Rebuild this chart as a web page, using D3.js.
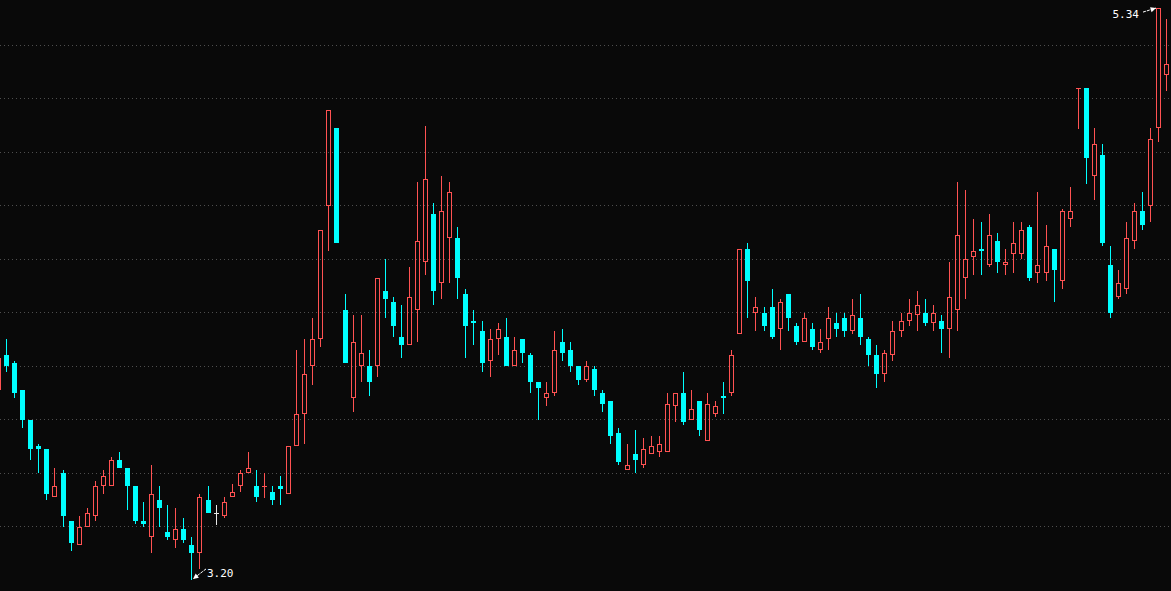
<!DOCTYPE html>
<html><head><meta charset="utf-8">
<script src="https://cdn.jsdelivr.net/npm/d3@7"></script>
<style>html,body{margin:0;padding:0;background:#090909;overflow:hidden}</style>
</head><body>
<svg id="c" width="1171" height="591"></svg>
<script>
// candle index (first one is partly off the left edge)
const firstIndex = -1;
const opens = [3.91,4.04,4.01,3.91,3.80,3.70,3.69,3.51,3.60,3.42,3.33,3.40,3.44,3.55,3.55,3.65,3.62,3.55,3.42,3.36,
3.50,3.38,3.35,3.39,3.33,3.30,3.50,3.45,3.44,3.51,3.55,3.60,3.55,3.55,3.53,3.55,3.52,3.70,3.82,4.00,
4.10,4.60,4.89,4.21,3.88,4.00,4.00,4.00,4.28,4.24,4.11,4.08,4.21,4.39,4.57,4.31,4.48,4.48,4.27,4.17,
4.13,4.02,4.10,4.11,4.00,4.10,4.04,3.94,3.88,3.90,4.09,4.06,4.00,3.95,3.99,3.90,3.87,3.75,3.61,3.67,
3.63,3.67,3.68,3.68,3.85,3.90,3.80,3.87,3.72,3.82,3.89,3.90,4.12,4.44,4.20,4.20,4.22,4.14,4.27,4.15,
4.09,4.14,4.06,4.10,4.16,4.18,4.13,4.18,4.10,4.04,3.97,4.04,4.13,4.17,4.19,4.20,4.16,4.17,4.14,4.21,
4.33,4.41,4.44,4.38,4.47,4.38,4.42,4.42,4.52,4.35,4.35,4.44,4.32,4.55,5.04,5.04,4.71,4.79,4.38,4.26,
4.29,4.47,4.58,4.60,4.89,5.09];
const highs = [4.04,4.10,4.02,3.91,3.80,3.71,3.69,3.62,3.61,3.42,3.44,3.47,3.57,3.61,3.66,3.68,3.62,3.55,3.49,3.63,
3.55,3.48,3.47,3.43,3.36,3.52,3.55,3.48,3.51,3.56,3.61,3.68,3.61,3.60,3.55,3.59,3.70,4.06,4.10,4.18,
4.51,4.96,4.89,4.27,4.19,4.19,4.06,4.33,4.40,4.26,4.23,4.37,4.69,4.90,4.61,4.71,4.69,4.52,4.29,4.21,
4.17,4.14,4.16,4.18,4.11,4.10,4.05,3.94,3.94,4.13,4.14,4.09,4.00,4.02,4.00,3.91,3.87,3.77,3.71,3.76,
3.73,3.74,3.74,3.90,3.90,3.98,3.91,3.87,3.90,3.87,3.94,4.06,4.44,4.46,4.26,4.22,4.29,4.25,4.27,4.16,
4.20,4.16,4.14,4.22,4.20,4.20,4.25,4.27,4.11,4.08,4.06,4.17,4.20,4.25,4.28,4.25,4.23,4.19,4.39,4.69,
4.66,4.55,4.54,4.57,4.50,4.44,4.54,4.54,4.53,4.65,4.53,4.44,4.59,4.67,5.04,5.04,4.89,4.83,4.45,4.36,
4.54,4.61,4.65,4.89,5.34,5.30];
const lows = [3.90,3.98,3.88,3.77,3.65,3.60,3.50,3.51,3.40,3.31,3.33,3.40,3.42,3.52,3.55,3.62,3.46,3.41,3.40,3.30,
3.40,3.35,3.32,3.34,3.20,3.24,3.45,3.41,3.43,3.51,3.53,3.60,3.49,3.51,3.48,3.48,3.52,3.70,3.71,3.93,
4.07,4.43,4.46,4.01,3.83,3.94,3.89,3.96,4.18,4.11,4.03,4.08,4.09,4.34,4.23,4.25,4.31,4.25,4.03,4.08,
3.98,3.96,4.04,4.00,4.00,4.01,3.90,3.80,3.85,3.89,4.02,3.98,3.93,3.94,3.89,3.83,3.71,3.63,3.61,3.60,
3.62,3.67,3.66,3.68,3.79,3.78,3.80,3.74,3.72,3.81,3.82,3.89,4.12,4.18,4.13,4.13,4.10,4.06,4.13,4.08,
4.09,4.06,4.05,4.06,4.11,4.11,4.12,4.08,4.00,3.92,3.94,4.02,4.11,4.15,4.13,4.15,4.13,4.05,4.03,4.13,
4.25,4.34,4.34,4.37,4.35,4.34,4.35,4.40,4.32,4.31,4.32,4.24,4.29,4.52,4.89,4.68,4.62,4.45,4.18,4.25,
4.27,4.44,4.51,4.54,4.84,5.03];
const closes = [4.03,4.00,3.90,3.80,3.69,3.69,3.52,3.55,3.44,3.34,3.40,3.45,3.55,3.59,3.65,3.62,3.55,3.42,3.41,3.52,
3.47,3.36,3.39,3.35,3.30,3.51,3.45,3.45,3.49,3.53,3.60,3.62,3.51,3.55,3.50,3.54,3.70,3.82,3.97,4.10,
4.51,4.96,4.46,4.01,4.09,4.05,3.94,4.33,4.25,4.15,4.08,4.26,4.47,4.70,4.28,4.58,4.65,4.33,4.15,4.16,
4.01,4.10,4.14,4.00,4.06,4.05,3.94,3.92,3.90,4.06,4.05,4.00,3.95,4.00,3.91,3.86,3.74,3.64,3.63,3.65,
3.69,3.70,3.71,3.86,3.90,3.79,3.84,3.76,3.86,3.85,3.88,4.04,4.44,4.32,4.22,4.15,4.11,4.24,4.18,4.09,
4.18,4.07,4.09,4.18,4.14,4.13,4.19,4.11,4.04,3.97,4.05,4.13,4.17,4.20,4.23,4.16,4.20,4.14,4.26,4.49,
4.40,4.43,4.43,4.49,4.39,4.39,4.46,4.51,4.33,4.38,4.45,4.36,4.58,4.58,5.04,4.78,4.83,4.46,4.20,4.31,
4.48,4.58,4.53,4.85,5.34,5.13];
const gridPrices = [3.4,3.6,3.8,4.0,4.2,4.4,4.6,4.8,5.0,5.2];

const W = 1171, H = 591;
const UP = "#ff5252", DOWN = "#00ffff", FLAT = "#e6e6e6", GRID = "#4e4e4e", TXT = "#ffffff";

const data = opens.map((o, k) => ({i: firstIndex + k, o, h: highs[k], l: lows[k], c: closes[k]}));
data.forEach((d, k) => {
  if (d.c > d.o) d.dir = 1;
  else if (d.c < d.o) d.dir = -1;
  else {
    const pc = k > 0 ? data[k - 1].c : d.c;
    d.dir = d.c > pc ? 1 : (d.c < pc ? -1 : 0);
    d.doji = true;
  }
});

const x = d3.scaleLinear().domain([0, 144]).range([6.61, 6.61 + 144 * 8.0576]);
const y = d3.scaleLinear().domain([3.4, 5.2]).range([526.5, 45.5]);
const col = i => Math.floor(x(i));
const ry = v => Math.round(y(v));

const svg = d3.select("#c");
svg.append("rect").attr("width", W).attr("height", H).attr("fill", "#090909");

svg.append("g").selectAll("line").data(gridPrices).join("line")
  .attr("x1", 0).attr("x2", W)
  .attr("y1", p => Math.floor(y(p)) + 0.5).attr("y2", p => Math.floor(y(p)) + 0.5)
  .attr("stroke", GRID).attr("stroke-width", 1).attr("stroke-dasharray", "1,3");

const color = d => d.dir > 0 ? UP : (d.dir < 0 ? DOWN : FLAT);
const g = svg.append("g").attr("shape-rendering", "crispEdges");

data.forEach(d => {
  const cx = col(d.i);
  const top = ry(Math.max(d.o, d.c)), bot = ry(Math.min(d.o, d.c));
  const hi = ry(d.h), lo = ry(d.l);
  const clr = color(d);
  if (d.doji || bot - top < 1) {
    g.append("rect").attr("x", cx).attr("y", hi).attr("width", 1).attr("height", Math.max(1, lo - hi + 1)).attr("fill", clr);
    g.append("rect").attr("x", cx - 2).attr("y", top).attr("width", 5).attr("height", 1).attr("fill", clr);
  } else if (d.dir > 0) {
    if (top > hi) g.append("rect").attr("x", cx).attr("y", hi).attr("width", 1).attr("height", top - hi).attr("fill", clr);
    if (lo > bot) g.append("rect").attr("x", cx).attr("y", bot).attr("width", 1).attr("height", lo - bot).attr("fill", clr);
    g.append("rect").attr("x", cx - 1.5).attr("y", top + 0.5).attr("width", 4).attr("height", Math.max(0, bot - top - 1))
      .attr("fill", "none").attr("stroke", clr).attr("stroke-width", 1).attr("shape-rendering", "auto");
  } else {
    g.append("rect").attr("x", cx).attr("y", hi).attr("width", 1).attr("height", Math.max(1, lo - hi)).attr("fill", clr);
    g.append("rect").attr("x", cx - 2).attr("y", top).attr("width", 5).attr("height", Math.max(1, bot - top)).attr("fill", clr);
  }
});

// extreme labels
const maxD = data.reduce((a, b) => b.h > a.h ? b : a);
const minD = data.reduce((a, b) => b.l < a.l ? b : a);
const ann = svg.append("g");
function arrow(x1, y1, x2, y2) {
  ann.append("line").attr("x1", x1).attr("y1", y1).attr("x2", x2).attr("y2", y2)
    .attr("stroke", TXT).attr("stroke-width", 1).attr("stroke-dasharray", "3,1");
  const a = Math.atan2(y2 - y1, x2 - x1), L = 6, s = 0.45;
  const p = [[x2, y2], [x2 - L * Math.cos(a - s), y2 - L * Math.sin(a - s)], [x2 - L * Math.cos(a + s), y2 - L * Math.sin(a + s)]];
  ann.append("path").attr("d", "M" + p.join("L") + "Z").attr("fill", TXT);
}
{
  const px = col(minD.i) + 1, py = y(minD.l);
  arrow(px + 14, py - 11, px + 1, py - 1);
  ann.append("text").attr("x", px + 15).attr("y", py - 3).attr("fill", TXT)
    .attr("font-family", "DejaVu Sans Mono, monospace").attr("font-size", 11).text(minD.l.toFixed(2));
}
{
  const px = col(maxD.i) - 2, py = y(maxD.h);
  arrow(px - 13, py + 4, px, py);
  ann.append("text").attr("x", px - 17).attr("y", py + 10).attr("fill", TXT).attr("text-anchor", "end")
    .attr("font-family", "DejaVu Sans Mono, monospace").attr("font-size", 11).text(maxD.h.toFixed(2));
}
</script>
</body></html>
